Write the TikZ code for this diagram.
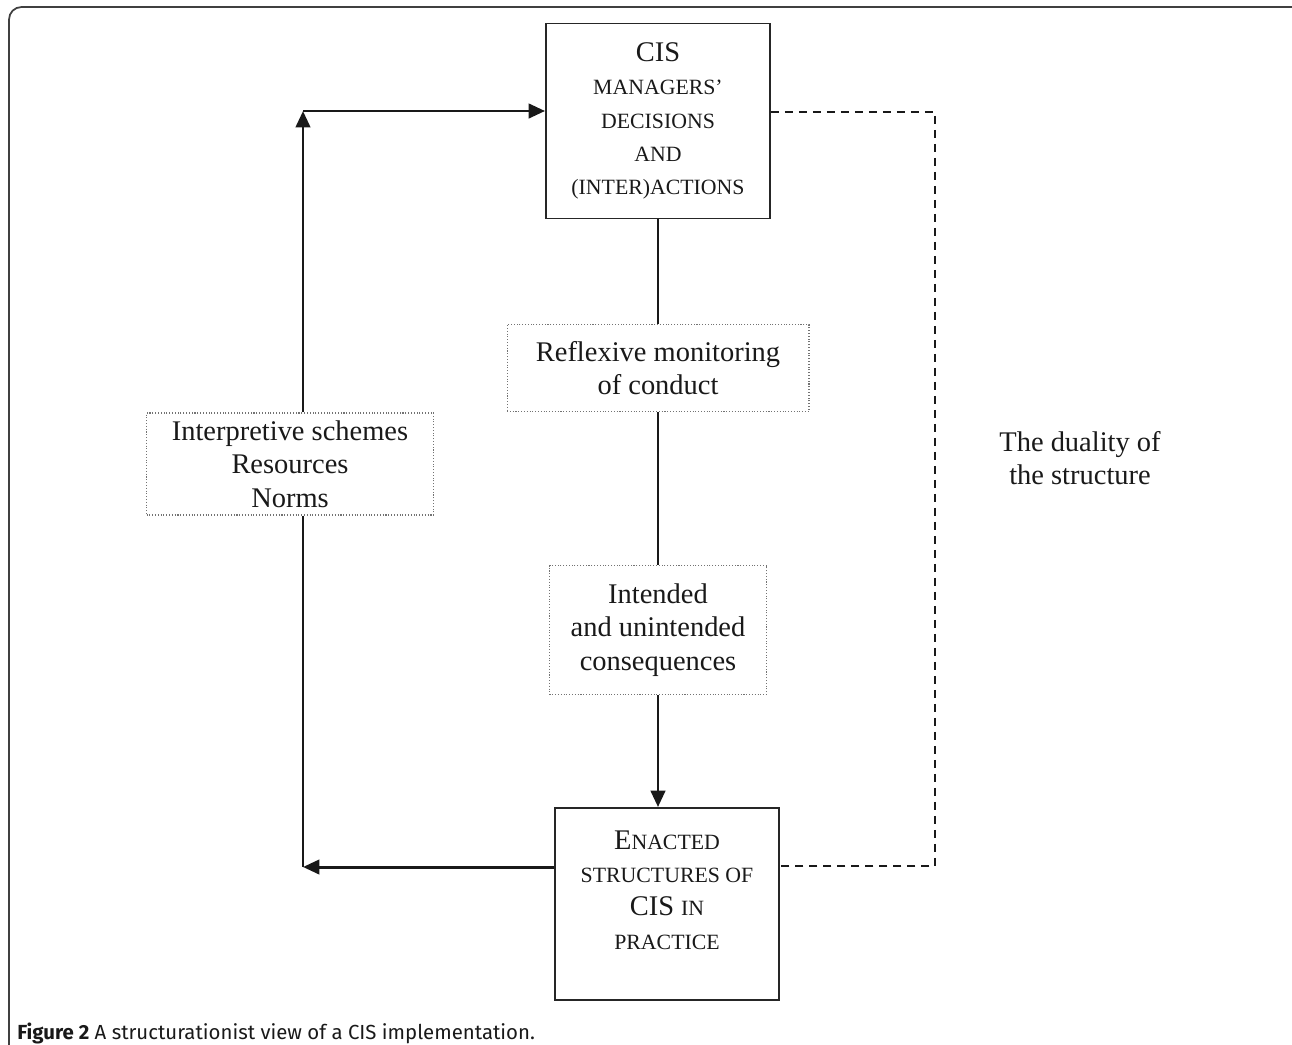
\documentclass[tikz,border=0pt]{standalone}
\usepackage{fontspec}
\setmainfont{Liberation Serif}
\newfontfamily\capfont{Fira Sans}
\usetikzlibrary{positioning,calc,arrows.meta}

\newcommand{\smcap}[1]{{\fontsize{12.4}{19}\selectfont #1}}

\begin{document}
\begin{tikzpicture}[x=0.02cm,y=-0.02cm,
    font=\fontsize{16.2}{19}\selectfont,text=black!90,
    solidbox/.style={draw=black!85,line width=1.1pt,align=center,inner sep=2pt},
    dotbox/.style={draw=black!55,densely dotted,line width=0.6pt,align=center,inner sep=2pt},
    flow/.style={line width=1.7pt,draw=black!90},
    tip/.style={flow,-{Triangle[length=0.33cm,width=0.29cm]}},
    duality/.style={dash pattern=on 0.16cm off 0.12cm,line width=0.9pt,draw=black!90}]
    \useasboundingbox (0,0) rectangle (1292,1045);
    \clip (0,0) rectangle (1292,1045);
    \draw[black!75,line width=1pt,rounded corners=0.25cm] (9,7) rectangle (1320,1080);
    % Boxes
    \node[solidbox,minimum width=4.48cm,minimum height=3.9cm] (cis) at (658,121)
        {CIS\\ \smcap{MANAGERS’}\\ \smcap{DECISIONS}\\ \smcap{AND}\\ \smcap{(INTER)ACTIONS}};
    \node[dotbox,minimum width=6.04cm,minimum height=1.74cm] (reflex) at (658,368)
        {Reflexive monitoring\\ of conduct};
    \node[dotbox,minimum width=5.74cm,minimum height=2.04cm] (interp) at (290,464)
        {Interpretive schemes\\ Resources\\ Norms};
    \node[dotbox,minimum width=4.34cm,minimum height=2.58cm] (intended) at (658,630)
        {Intended\\ and unintended\\ consequences};
    \node[solidbox,minimum width=4.48cm,minimum height=3.84cm] (enacted) at (667,904)
        {{\fontsize{16.2}{19}\selectfont E}\smcap{NACTED}\\ \smcap{STRUCTURES OF}\\ CIS \smcap{IN}\\ \smcap{PRACTICE}\\[-3pt]\mbox{}};
    \node[align=center] (dual) at (1080,458) {The duality of\\ the structure};
    % Corners of the loops
    \coordinate (ul) at (303,111);
    \coordinate (ll) at (303,867);
    \coordinate (ur) at (935,112);
    \coordinate (lr) at (935,866);
    % Middle column
    \draw[flow] (cis) -- (reflex);
    \draw[flow] (reflex) -- (intended);
    \draw[tip] (intended.south) -- (intended.south |- enacted.north);
    % Left loop
    \draw[tip] (ul |- interp.north) -- (ul);
    \draw[tip] (ul) -- (ul -| cis.west);
    \draw[flow] (interp.south -| ll) -- (ll);
    \draw[tip] (ll -| enacted.west) -- (ll);
    % Duality
    \draw[duality] (ur -| cis.east) -- (ur) -- (lr) -- (lr -| enacted.east);
    % Caption
    \node[anchor=base west,inner sep=0pt,font=\capfont\fontsize{11.6}{13}\selectfont] (caption) at (17,1039)
        {\textbf{Figure 2} A structurationist view of a CIS implementation.};
\end{tikzpicture}
\end{document}
